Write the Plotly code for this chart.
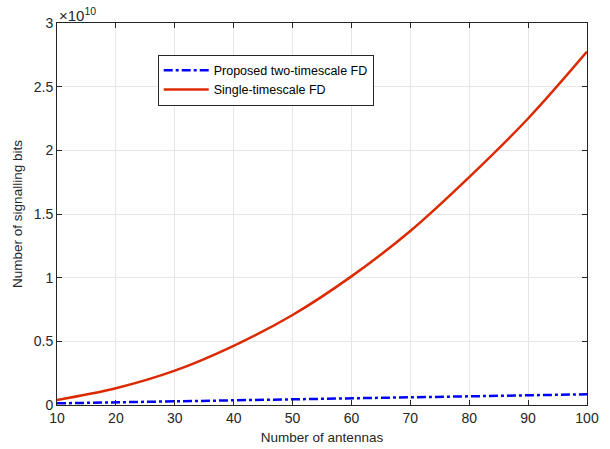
import plotly.graph_objects as go

antennas = [10, 20, 30, 40, 50, 60, 70, 80, 90, 100]
# values in units of 1e10 bits
two_timescale = [0.013, 0.021, 0.029, 0.037, 0.045, 0.053, 0.061, 0.069, 0.076, 0.084]
single_timescale = [0.040, 0.132, 0.270, 0.465, 0.707, 1.010, 1.367, 1.790, 2.250, 2.775]

y_ticks = [0, 0.5, 1, 1.5, 2, 2.5, 3]
y_tick_text = ["0", "0.5", "1", "1.5", "2", "2.5", "3"]
x_ticks = [10, 20, 30, 40, 50, 60, 70, 80, 90, 100]

FONT = "Liberation Sans, Arial, Helvetica"

fig = go.Figure()
fig.add_trace(go.Scatter(
    x=antennas, y=two_timescale, mode="lines",
    name="Proposed two-timescale FD",
    line=dict(color="#0000ff", width=2.5, dash="dashdot"),
))
fig.add_trace(go.Scatter(
    x=antennas, y=single_timescale, mode="lines",
    name="Single-timescale FD",
    line=dict(color="#dc2a00", width=2.5, shape="spline"),
))

axis_common = dict(
    showline=True, linecolor="#262626", linewidth=1, mirror="allticks",
    ticks="inside", ticklen=5, tickcolor="#262626",
    showgrid=True, gridcolor="#e6e6e6", gridwidth=1, zeroline=False,
    tickfont=dict(family=FONT, size=14, color="#262626"),
    automargin=False,
)

fig.update_layout(
    width=610, height=449,
    margin=dict(l=57, r=23, t=23, b=44),
    paper_bgcolor="white", plot_bgcolor="white",
    showlegend=True,
    legend=dict(
        x=0.19, y=0.917, xanchor="left", yanchor="top",
        bgcolor="white", bordercolor="#262626", borderwidth=1,
        font=dict(family=FONT, size=12.5, color="#000000"),
        tracegroupgap=0, itemwidth=45,
    ),
    xaxis=dict(
        range=[10, 100], tickvals=x_ticks,
        title=dict(text="Number of antennas", standoff=7,
                   font=dict(family=FONT, size=13.5, color="#262626")),
        **axis_common,
    ),
    yaxis=dict(
        range=[0, 3], tickvals=y_ticks, ticktext=y_tick_text,
        title=dict(text="Number of signalling bits", standoff=8,
                   font=dict(family=FONT, size=13.5, color="#262626")),
        **axis_common,
    ),
    annotations=[dict(
        text="×10<sup>10</sup>", x=0, y=1, xref="paper", yref="paper",
        xanchor="left", yanchor="bottom", showarrow=False, yshift=-3,
        font=dict(family=FONT, size=15, color="#262626"),
    )],
)

fig.write_html("out.html")
